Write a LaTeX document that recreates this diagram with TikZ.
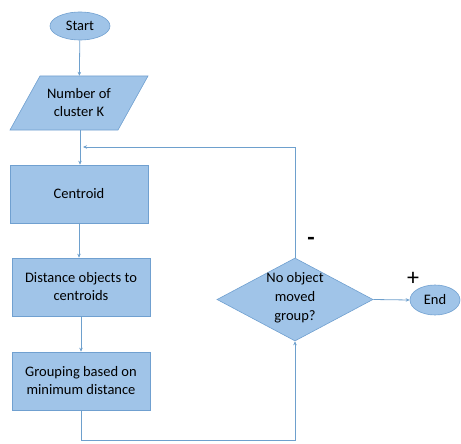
\documentclass[tikz,border=0pt]{standalone}
\usepackage{fontspec}
\setmainfont{Carlito}
\usetikzlibrary{shapes.geometric,arrows.meta}
\definecolor{boxfill}{RGB}{160,196,232}
\definecolor{boxline}{RGB}{112,160,208}
\definecolor{wire}{RGB}{110,160,205}
\tikzset{
  shapebox/.style={fill=boxfill,draw=boxline,line width=0.6pt,font=\fontsize{14.5}{18}\selectfont,align=center},
  procbox/.style={shapebox,rectangle,minimum width=138pt,minimum height=58pt,inner sep=0pt},
  term/.style={shapebox,ellipse,inner sep=0pt},
  conn/.style={draw=wire,line width=0.8pt,-{Stealth[length=4pt,width=3.5pt]}},
  signlbl/.style={font=\fontsize{24}{26}\selectfont}
}
\begin{document}
\begin{tikzpicture}[x=1pt,y=-1pt]
\useasboundingbox (0,0) rectangle (461,444);
\node[term,minimum width=60pt,minimum height=28pt] (start) at (80,26) {Start};
% parallelogram
\fill[boxfill] (40,76) -- (148,76) -- (118,130) -- (10,130) -- cycle;
\draw[boxline,line width=0.6pt] (40,76) -- (148,76) -- (118,130) -- (10,130) -- cycle;
\node[font=\fontsize{14.5}{18}\selectfont,align=center,minimum width=78pt,minimum height=54pt,inner sep=0pt] (input) at (79,103) {Number of\\cluster K};
\node[procbox] (centroid) at (79,194) {Centroid};
\node[procbox] (dist) at (81,287) {Distance objects to\\centroids};
\node[procbox] (group) at (81,381) {Grouping based on\\minimum distance};
\node[shapebox,diamond,minimum width=156pt,minimum height=83pt,inner sep=0pt] (dec) at (295,299.5) {};
\node[font=\fontsize{14.5}{19}\selectfont,align=center,inner sep=0pt] (dectext) at (295,298) {No object\\moved\\group?};
\node[term,minimum width=50pt,minimum height=30pt] (endn) at (435,300) {End};
\coordinate (join) at (80,147);
\coordinate (fbtop) at (295,147);
\coordinate (gbot) at (81,440);
\coordinate (dbot) at (295,440);
\draw[conn] (start) -- (input);
\draw[conn] (input.south -| join) -- (centroid.north -| join);
\draw[conn] (centroid) -- (centroid |- dist.north);
\draw[conn] (dist) -- (group);
\draw[conn] (dec.north) -- (fbtop) -- ([xshift=3pt]join);
\draw[conn] (group.south) -- (gbot) -- (dbot) -- (dec.south);
\draw[conn] (dec.east) -- (endn.west);
\node[signlbl,font=\fontsize{24}{26}\bfseries] (minus) at (311,241) {-};
\node[signlbl] (plus) at (413,279) {+};
\end{tikzpicture}
\end{document}
